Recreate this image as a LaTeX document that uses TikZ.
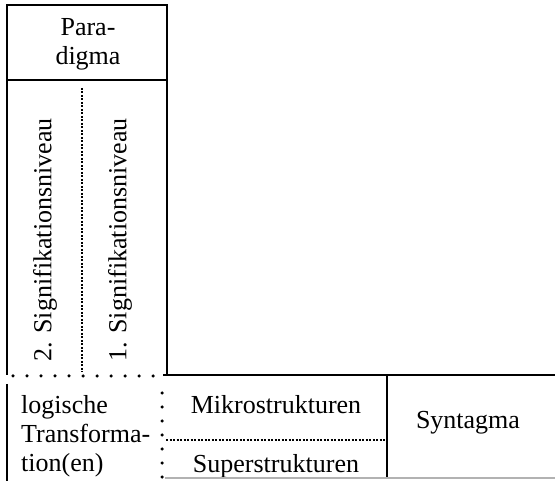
\documentclass[tikz,border=0pt]{standalone}
\usepackage{fontspec}
\setmainfont{Liberation Serif}
\begin{document}
\begin{tikzpicture}[x=1pt,y=-1pt,
  lbl/.style={font=\fontsize{26}{29}\selectfont, inner sep=0pt},
  rule/.style={line width=2pt},
  finedash/.style={line width=1.2pt, dash pattern=on 2pt off 1.5pt},
  dotline/.style={line width=3.5pt, line cap=round, dash pattern=on 0pt off 14pt}]
\useasboundingbox (0,0) rectangle (555,481);
%PARADIGMA
\draw[rule] (7,375) -- (7,5) -- (167,5) -- (167,375);
\draw[rule] (7,80) -- (167,80);
\node[lbl, align=center] (para) at (88,44) {Para-\\digma};
\draw[finedash] (82,88) -- (82,372);
\node[lbl, rotate=90] (niv2) at (45,240) {2. Signifikationsniveau};
\node[lbl, rotate=90] (niv1) at (120,240) {1. Signifikationsniveau};
\draw[dotline] (13,376) -- (155,376);
%SYNTAGMA
\draw[rule] (163,375) -- (555,375);
\draw[rule] (7,384) -- (7,481);
\draw[dotline] (162,393) -- (162,481);
\node[lbl, align=left, anchor=west] (logik) at (21,436) {logische\\Transforma-\\tion(en)};
\node[lbl] (mikro) at (276,405) {Mikrostrukturen};
\draw[finedash] (166,440) -- (386,440);
\node[lbl] (super) at (276,466) {Superstrukturen};
\draw[rule] (387,375) -- (387,478);
\draw[line width=1.5pt, gray!60] (165,478) -- (555,478);
\node[lbl] (syn) at (468,423) {Syntagma};
\end{tikzpicture}
\end{document}
